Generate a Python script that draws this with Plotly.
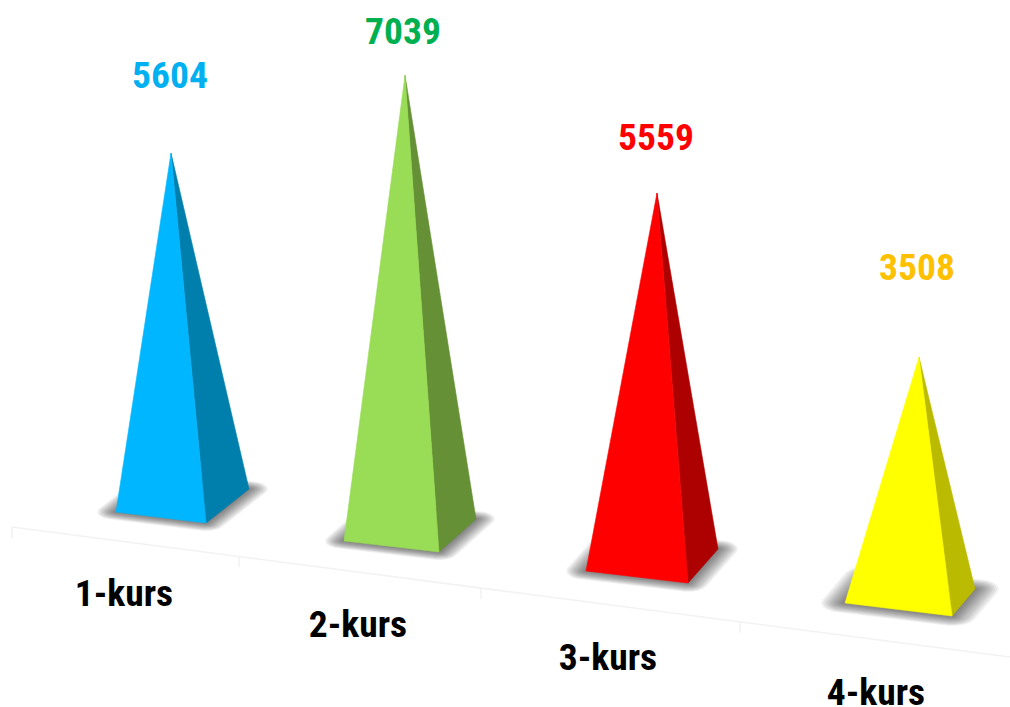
"""3D-style pyramid chart of students per course, drawn with filled Plotly traces."""

import math

import plotly.graph_objects as go

# Chart data
CATEGORIES = ['1-kurs', '2-kurs', '3-kurs', '4-kurs']
VALUES = [5604, 7039, 5559, 3508]

# Colors per pyramid
LIGHT_FACE = ['#00B7FF', '#99DC55', '#FF0000', '#FFFF00']
DARK_FACE = ['#007FAD', '#659035', '#AD0000', '#BABA00']
VALUE_COLORS = ['#00B0F0', '#00B050', '#FF0000', '#FFC000']

# Scene geometry (perspective projection)
BASE_LEFT = [(116, 512), (344, 541), (586, 571), (845, 603)]
BASE_FRONT = [(206, 523), (439, 552), (688, 583), (952, 616)]
BASE_RIGHT = [(249, 489), (476, 519), (718, 549), (975, 589)]
APEX_X = [171, 405, 657, 919]
APEX_FLOOR = [500, 530, 560, 602]
UNIT_HEIGHT = [0.0619, 0.0646, 0.0660, 0.0698]
SHADOW_BLUR_X = [19, 19, 20, 24]
SHADOW_BLUR_Y = [8, 8, 9, 10]

VALUE_POS = [(170, 79), (403, 35), (656, 141), (917, 271)]
LABEL_POS = [(124, 597), (358, 628), (608, 661), (876, 696)]
FLOOR_LINE = [(12, 527), (1010, 657)]
FLOOR_TICKS = [12, 239, 481, 740]

FONT = 'Roboto Condensed, Liberation Sans Narrow, Roboto, sans-serif'


def polygon(points, color, edge=0):
    xs = [p[0] for p in points] + [points[0][0]]
    ys = [p[1] for p in points] + [points[0][1]]
    return go.Scatter(x=xs, y=ys, mode='lines', fill='toself', fillcolor=color,
                      line=dict(width=edge, color=color), hoverinfo='skip', showlegend=False)


def convex_hull(points):
    points = sorted(set(points))

    def half(pts):
        out = []
        for p in pts:
            while len(out) > 1 and ((out[-1][0] - out[-2][0]) * (p[1] - out[-2][1])
                                    - (out[-1][1] - out[-2][1]) * (p[0] - out[-2][0])) <= 0:
                out.pop()
            out.append(p)
        return out[:-1]

    return half(points) + half(points[::-1])


def shadow_layers(left, front, right, blur_x, blur_y):
    """Stack of see-through rounded quads that fakes the blurred ground shadow."""
    back = (left[0] + right[0] - front[0], left[1] + right[1] - front[1])
    layers = []
    steps = 12
    for s in range(steps, -1, -1):
        rx = blur_x * s / steps
        ry = blur_y * s / steps
        outline = []
        for corner in (left, front, right, back):
            for a in range(0, 360, 20):
                outline.append((corner[0] + rx * math.cos(math.radians(a)),
                                corner[1] + ry * math.sin(math.radians(a))))
        layers.append(polygon(convex_hull(outline), 'rgba(0,0,0,0.05)'))
    return layers


fig = go.Figure()

# Floor line with its tick marks
floor_slope = (FLOOR_LINE[1][1] - FLOOR_LINE[0][1]) / (FLOOR_LINE[1][0] - FLOOR_LINE[0][0])
fig.add_trace(go.Scatter(x=[p[0] for p in FLOOR_LINE], y=[p[1] for p in FLOOR_LINE], mode='lines',
                         line=dict(color='#F2F2F2', width=1.5), hoverinfo='skip', showlegend=False))
for tick in FLOOR_TICKS:
    y0 = FLOOR_LINE[0][1] + (tick - FLOOR_LINE[0][0]) * floor_slope
    fig.add_trace(go.Scatter(x=[tick, tick], y=[y0, y0 + 11], mode='lines',
                             line=dict(color='#F2F2F2', width=1.5), hoverinfo='skip', showlegend=False))

for i, value in enumerate(VALUES):
    apex = (APEX_X[i], APEX_FLOOR[i] - value * UNIT_HEIGHT[i])
    for layer in shadow_layers(BASE_LEFT[i], BASE_FRONT[i], BASE_RIGHT[i],
                               SHADOW_BLUR_X[i], SHADOW_BLUR_Y[i]):
        fig.add_trace(layer)
    fig.add_trace(polygon([apex, BASE_FRONT[i], BASE_RIGHT[i]], DARK_FACE[i], edge=0.6))
    fig.add_trace(polygon([apex, BASE_LEFT[i], BASE_FRONT[i]], LIGHT_FACE[i], edge=0.6))

fig.add_trace(go.Scatter(
    x=[p[0] for p in VALUE_POS], y=[p[1] for p in VALUE_POS],
    mode='text', text=[str(v) for v in VALUES], textposition='middle center',
    textfont=dict(family=FONT, size=37.5, color=VALUE_COLORS, weight='bold'),
    hoverinfo='skip', showlegend=False
))
fig.add_trace(go.Scatter(
    x=[p[0] for p in LABEL_POS], y=[p[1] for p in LABEL_POS],
    mode='text', text=CATEGORIES, textposition='middle center',
    textfont=dict(family=FONT, size=37.5, color='#000000', weight='bold'),
    hoverinfo='skip', showlegend=False
))

fig.update_xaxes(range=[0, 1010], visible=False)
fig.update_yaxes(range=[707, 0], visible=False)
fig.update_layout(
    width=1010,
    height=707,
    margin=dict(l=0, r=0, t=0, b=0),
    paper_bgcolor='white',
    plot_bgcolor='white',
    showlegend=False
)

# the page's default body margin would push the plot out of the window
fig.write_html("out.html", config={'displayModeBar': False},
               post_script="document.body.style.margin = '0';")
